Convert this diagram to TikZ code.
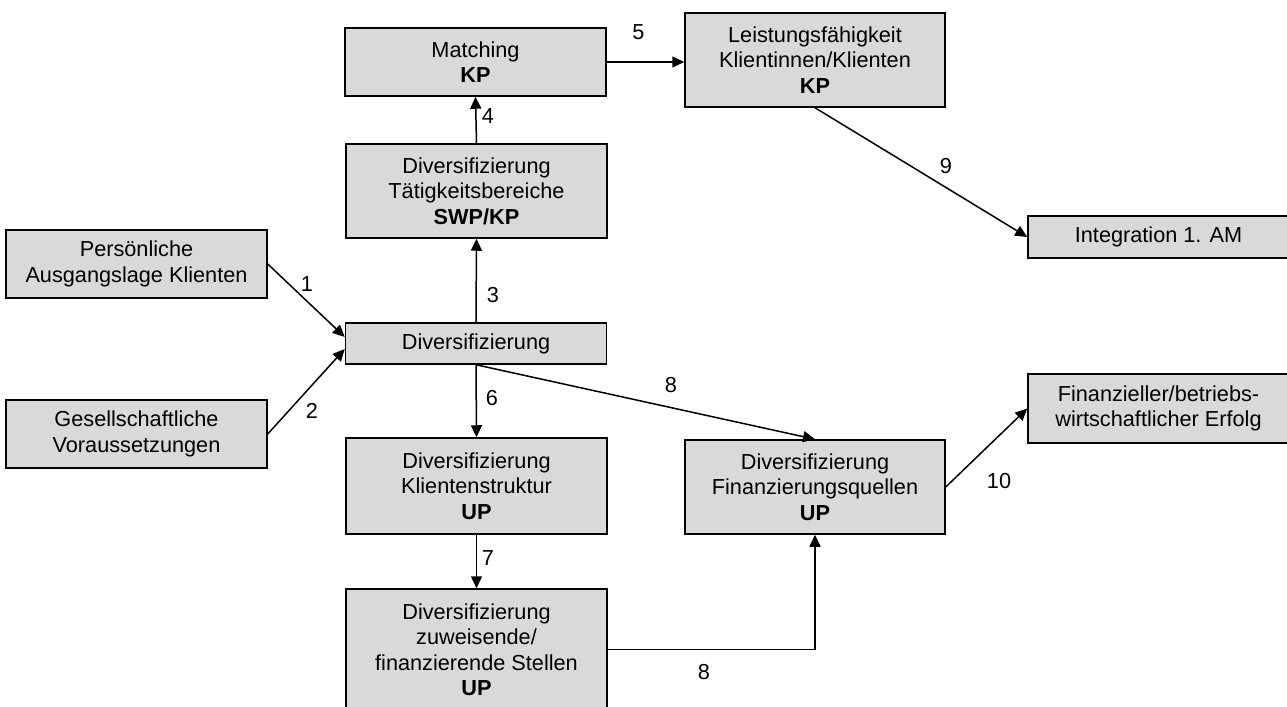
\documentclass[tikz,border=0pt]{standalone}
\usepackage{fontspec}
\setmainfont{Liberation Sans}
\usetikzlibrary{arrows.meta}
\begin{document}
\begin{tikzpicture}[x=1bp,y=-1bp,
  box/.style={draw=black, line width=1.5bp, fill=boxgray, align=center, inner sep=0pt,
    minimum width=261bp, font=\fontsize{21.7bp}{25.5bp}\selectfont},
  lbl/.style={inner sep=0pt, font=\fontsize{21.7bp}{25.5bp}\selectfont},
  conn/.style={line width=1.5bp, -{Triangle[length=12bp,width=11bp]}}]
\definecolor{boxgray}{HTML}{D9D9D9}
\useasboundingbox (0,0) rectangle (1287,707);
\clip (0,0) rectangle (1287,707);
% nodes
\node[box, minimum height=68bp] (pers) at (136.5,264) {Persönliche\\Ausgangslage  Klienten};
\node[box, minimum height=68bp] (ges) at (136.5,434) {Gesellschaftliche\\Voraussetzungen};
\node[box, minimum height=68bp] (match) at (475.5,62) {Matching\\\textbf{KP}};
\node[box, minimum height=94bp] (taet) at (476.5,191) {Diversifizierung\\Tätigkeitsbereiche\\\textbf{SWP/KP}};
\node[box, minimum height=41bp] (div) at (476,343.5) {Diversifizierung};
\node[box, minimum height=96bp] (klient) at (476.5,486) {Diversifizierung\\Klientenstruktur\\\textbf{UP}};
\node[box, minimum height=121bp] (zuw) at (476.5,649.5) {Diversifizierung\\zuweisende/\\finanzierende Stellen\\\textbf{UP}};
\node[box, minimum height=94bp, minimum width=260bp] (leist) at (815,60) {Leistungsfähigkeit\\Klientinnen/Klienten\\\textbf{KP}};
\node[box, minimum height=94bp, minimum width=260bp] (finq) at (815,487) {Diversifizierung\\Finanzierungsquellen\\\textbf{UP}};
\node[box, minimum height=42bp] (integ) at (1158.5,237) {Integration 1. AM};
\node[box, minimum height=69bp] (finerf) at (1158.5,408.5) {Finanzieller/betriebs-\\wirtschaftlicher Erfolg};
% connectors
\draw[conn] (pers.east) -- ([yshift=6.5bp]div.west);
\draw[conn] (ges.east) -- ([yshift=-5.5bp]div.west);
\draw[conn] (div.north) -- (taet.south);
\draw[conn] (taet.north) -- (match.south);
\draw[conn] (match.east) -- (match.east -| leist.west);
\draw[conn] (div.south) -- (klient.north);
\draw[conn] (klient.south) -- (zuw.north);
\draw[conn] (div.south) -- (finq.north);
\draw[conn] (zuw.east) -| (finq.south);
\draw[conn] (leist.south) -- (integ.west);
\draw[conn] (finq.east) -- (finerf.west);
% labels
\node[lbl] (l1) at (307,284) {1};
\node[lbl] (l2) at (312,411) {2};
\node[lbl] (l3) at (493,295) {3};
\node[lbl] (l4) at (488,116) {4};
\node[lbl] (l5) at (638.5,32) {5};
\node[lbl] (l6) at (492,398) {6};
\node[lbl] (l7) at (488,558) {7};
\node[lbl] (l8a) at (671,385) {8};
\node[lbl] (l8b) at (704,672) {8};
\node[lbl] (l9) at (946,166) {9};
\node[lbl] (l10) at (999,481.5) {10};
\end{tikzpicture}
\end{document}
